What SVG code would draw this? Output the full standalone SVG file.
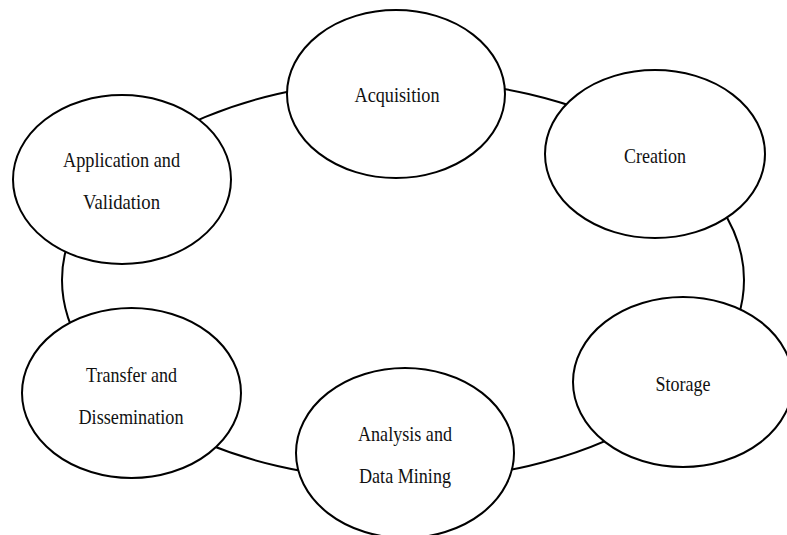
<svg xmlns="http://www.w3.org/2000/svg" width="787" height="535" viewBox="0 0 787 535">
<style>
.n{fill:#fff;stroke:#000;stroke-width:2}
.c{fill:none;stroke:#000;stroke-width:2}
text{font-family:"Liberation Serif","Times New Roman",serif;font-size:21px;fill:#111;text-anchor:middle}
</style>
<rect width="787" height="535" fill="#fff"/>
<g id="connectors">
<ellipse class="c" cx="403" cy="280" rx="341" ry="200"/>
</g>
<g id="acquisition">
<ellipse class="n" cx="396" cy="94" rx="109" ry="84"/>
<text x="397" y="102" textLength="85" lengthAdjust="spacingAndGlyphs">Acquisition</text>
</g>
<g id="creation">
<ellipse class="n" cx="655" cy="154" rx="110" ry="84"/>
<text x="655" y="163" textLength="62" lengthAdjust="spacingAndGlyphs">Creation</text>
</g>
<g id="application">
<ellipse class="n" cx="122" cy="179.5" rx="109" ry="84.5"/>
<text x="121.5" y="167" textLength="117" lengthAdjust="spacingAndGlyphs">Application and</text>
<text x="121.5" y="209" textLength="77" lengthAdjust="spacingAndGlyphs">Validation</text>
</g>
<g id="transfer">
<ellipse class="n" cx="131.5" cy="393" rx="109.5" ry="85"/>
<text x="131.5" y="382" textLength="91" lengthAdjust="spacingAndGlyphs">Transfer and</text>
<text x="131" y="424" textLength="105" lengthAdjust="spacingAndGlyphs">Dissemination</text>
</g>
<g id="analysis">
<ellipse class="n" cx="405" cy="453" rx="109" ry="85"/>
<text x="405" y="441" textLength="94" lengthAdjust="spacingAndGlyphs">Analysis and</text>
<text x="405" y="483" textLength="92" lengthAdjust="spacingAndGlyphs">Data Mining</text>
</g>
<g id="storage">
<ellipse class="n" cx="683" cy="382" rx="110" ry="85"/>
<text x="683" y="391" textLength="55" lengthAdjust="spacingAndGlyphs">Storage</text>
</g>
</svg>
